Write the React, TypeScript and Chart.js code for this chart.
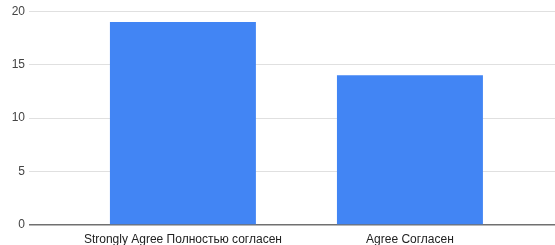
import React, { useEffect, useRef } from "react";
import { Chart, registerables } from "chart.js";

Chart.register(...registerables);

const categories: string[] = ["Strongly Agree Полностью согласен", "Agree Согласен"];
const counts: number[] = [19, 14];
const yTicks: number[] = [0, 5, 10, 15, 20];

export default function App() {
  const ref = useRef<HTMLCanvasElement | null>(null);

  useEffect(() => {
    if (!ref.current) return;
    const chart = new Chart(ref.current, {
      type: "bar",
      data: {
        datasets: [
          {
            data: counts.map((v, i) => ({ x: i, y: v })),
            backgroundColor: "#4285F4",
            borderWidth: 0,
            categoryPercentage: 1,
            barPercentage: 0.643,
          },
        ],
      },
      options: {
        animation: false,
        responsive: true,
        maintainAspectRatio: false,
        layout: { padding: { top: 10, right: 0, left: 0, bottom: 0 } },
        plugins: { legend: { display: false }, tooltip: { enabled: false } },
        scales: {
          x: {
            type: "linear",
            offset: false,
            min: -0.678,
            max: 1.639,
            afterFit: (scale: any) => {
              scale.height = 20;
            },
            grid: { display: false, offset: false, drawTicks: false },
            border: { display: false },
            ticks: {
              stepSize: 1,
              includeBounds: false,
              autoSkip: false,
              maxRotation: 0,
              minRotation: 0,
              padding: 7,
              color: "#222",
              font: { family: "'Liberation Sans', Arial, sans-serif", size: 12 },
              callback: (v: any) =>
                Number.isInteger(v) && categories[v] !== undefined ? categories[v] : "",
            },
          },
          y: {
            min: yTicks[0],
            max: yTicks[yTicks.length - 1],
            afterFit: (scale: any) => {
              scale.width = 29;
            },
            grid: {
              drawTicks: false,
              color: (ctx: any) => (ctx.tick && ctx.tick.value === 0 ? "#707070" : "#e0e0e0"),
              lineWidth: (ctx: any) => (ctx.tick && ctx.tick.value === 0 ? 1.5 : 1),
            },
            border: { display: false },
            ticks: {
              stepSize: 5,
              padding: 4,
              color: "#444",
              font: { family: "'Liberation Sans', Arial, sans-serif", size: 12 },
            },
          },
        },
      },
    });
    return () => chart.destroy();
  }, []);

  return (
    <div style={{ position: "absolute", left: 0, top: 0, width: 555, height: 245, background: "#fff" }}>
      <canvas ref={ref} />
    </div>
  );
}
